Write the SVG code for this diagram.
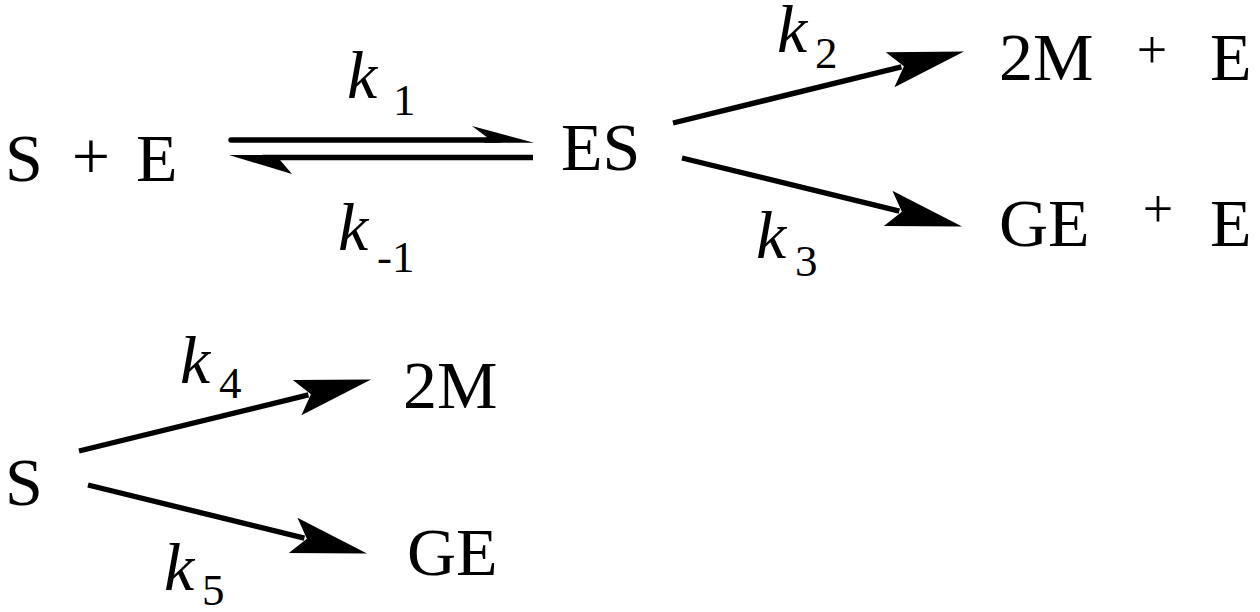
<svg xmlns="http://www.w3.org/2000/svg" width="1260" height="612" viewBox="0 0 1260 612">
<style>
text{font-family:"Liberation Serif","Times New Roman",serif;fill:#000}
.sp{font-size:68px}
.pl{font-size:68px;text-anchor:middle}
.ps{font-size:54px;text-anchor:middle}
.k{font-size:68px;font-style:italic}
.sub{font-size:45px;font-style:normal}
.ln{stroke:#000;stroke-width:5.4;fill:none}
</style>
<defs>
<marker id="ah" markerUnits="userSpaceOnUse" orient="auto" refX="0" refY="0" markerWidth="80" markerHeight="40" viewBox="-10 -15 62 30" overflow="visible">
<path d="M-9,-14 L50,0 L-9,14 L2,0 Z" fill="#000"/>
</marker>
</defs>
<rect width="1260" height="612" fill="#fff"/>
<g id="node-S-E"><text class="sp" x="5" y="181">S</text><text class="pl" x="91" y="179">+</text><text class="sp" x="136" y="181">E</text></g>
<g id="node-ES"><text class="sp" x="561" y="170">ES</text></g>
<g id="node-2M-E"><text class="sp" x="999" y="80">2M</text><text class="ps" x="1152" y="68">+</text><text class="sp" x="1210" y="80">E</text></g>
<g id="node-GE-E"><text class="sp" x="999" y="246">GE</text><text class="ps" x="1158" y="227">+</text><text class="sp" x="1210" y="246">E</text></g>
<g id="node-S"><text class="sp" x="5" y="505">S</text></g>
<g id="node-2M"><text class="sp" x="403" y="408">2M</text></g>
<g id="node-GE"><text class="sp" x="407" y="575">GE</text></g>
<g id="connectors">
<path d="M231,140 L500,140" class="ln" stroke-linecap="round"/>
<polygon points="472,126 534,142.7 484,142.7 487,137.3" fill="#000"/>
<path d="M262,157.5 L533,157.5" class="ln"/>
<polygon points="229,155 292,174 280,160 270,155" fill="#000"/>
<line class="ln" x1="673" y1="123" x2="901.4" y2="66.9" marker-end="url(#ah)"/>
<line class="ln" x1="682" y1="158" x2="899.4" y2="211.1" marker-end="url(#ah)"/>
<line class="ln" x1="79" y1="451" x2="308.4" y2="394.9" marker-end="url(#ah)"/>
<line class="ln" x1="88" y1="485" x2="304.4" y2="538.1" marker-end="url(#ah)"/>
</g>
<g id="labels">
<text><tspan class="k" x="347" y="98">k</tspan><tspan class="sub" x="393" y="115">1</tspan></text>
<text><tspan class="k" x="338" y="250">k</tspan><tspan class="sub" x="377" y="272">-1</tspan></text>
<text><tspan class="k" x="777" y="52">k</tspan><tspan class="sub" x="815" y="68">2</tspan></text>
<text><tspan class="k" x="756" y="258">k</tspan><tspan class="sub" x="795" y="276">3</tspan></text>
<text><tspan class="k" x="180" y="383">k</tspan><tspan class="sub" x="219" y="398">4</tspan></text>
<text><tspan class="k" x="164" y="590">k</tspan><tspan class="sub" x="202" y="605">5</tspan></text>
</g>
</svg>
